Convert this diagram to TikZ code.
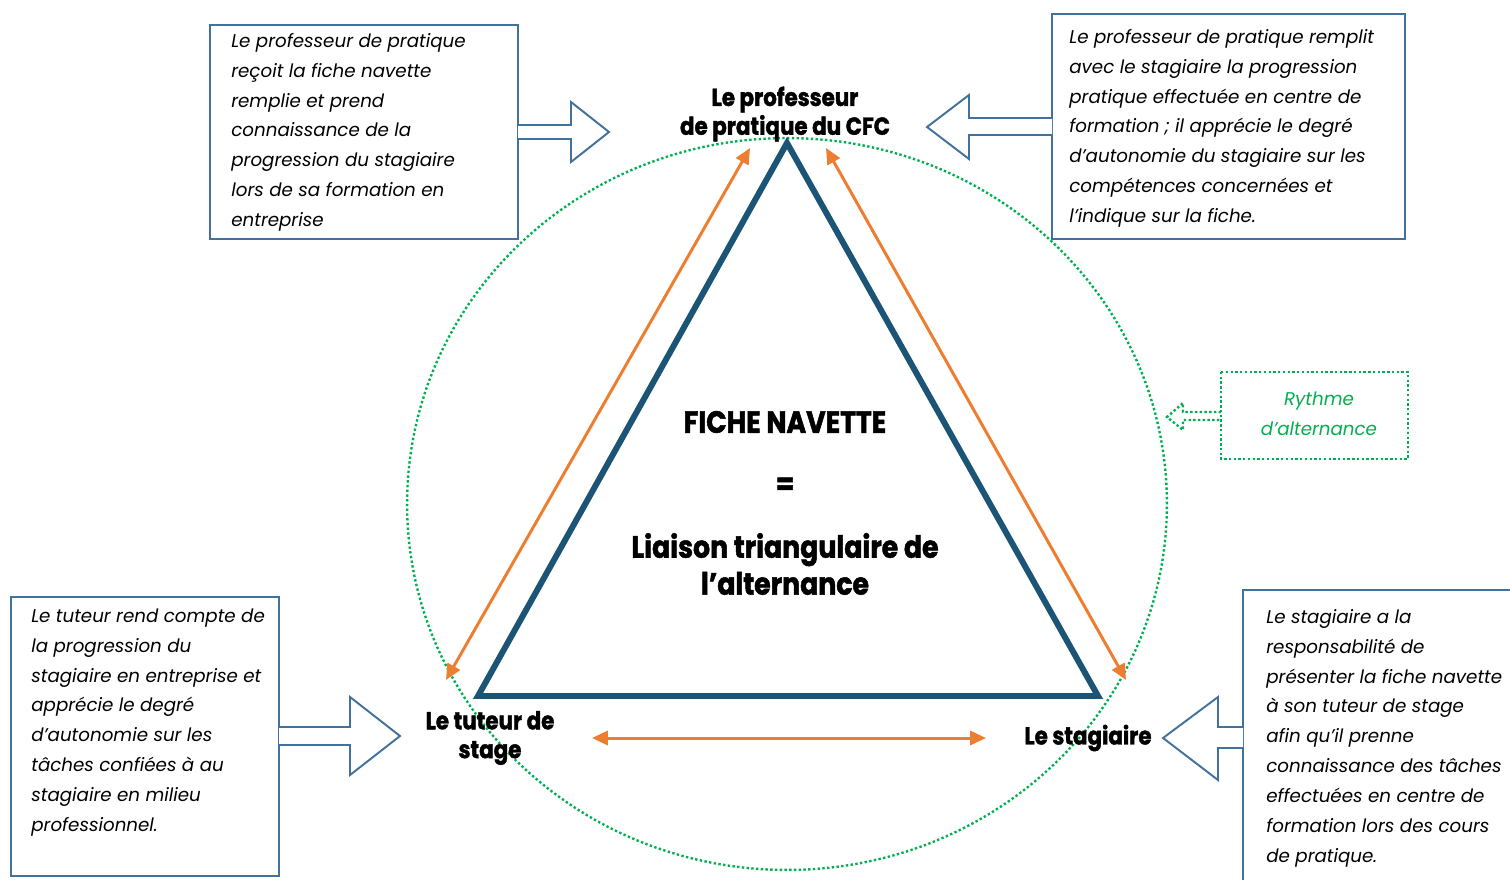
\documentclass[tikz,border=0pt]{standalone}
\usepackage{fontspec}
\setmainfont{Poppins}
\newfontfamily\bodyfam{Poppins}[FakeStretch=0.99]
\newfontfamily\lblfam{Poppins}[FakeStretch=0.87, BoldFeatures={FakeBold=1.6}]
\usetikzlibrary{arrows.meta}
\definecolor{boxblue}{RGB}{65,113,156}
\definecolor{triblue}{RGB}{28,84,118}
\definecolor{orangec}{RGB}{237,125,49}
\definecolor{greenc}{RGB}{0,176,80}
\newcommand{\bodyfnt}{\bodyfam\itshape\fontsize{10.5}{17}\selectfont}
\newcommand{\lblfnt}{\lblfam\bfseries\fontsize{14}{16.4}\selectfont}
\newcommand{\bigfnt}{\lblfam\bfseries\fontsize{17.5}{21}\selectfont}
\newcommand{\fl}{\rule{0pt}{10pt}}
\tikzset{
  bx/.style={draw=boxblue, line width=1.1pt},
  barrow/.style={draw=boxblue, line width=1.1pt, fill=white, line join=miter},
  body/.style={anchor=north west, inner sep=0pt, align=left, font=\bodyfnt},
  lbl/.style={inner sep=0pt, align=center, font=\lblfnt},
  oarr/.style={draw=orangec, line width=1.7pt, {Triangle[length=9pt,width=8pt]}-{Triangle[length=9pt,width=8pt]}},
  gdot/.style={draw=greenc, line width=1.35pt, dash pattern=on 1.35pt off 1.35pt},
}
\begin{document}
\begin{tikzpicture}[x=0.02cm,y=-0.02cm]
\useasboundingbox (0,0) rectangle (1510,879);
% green dotted ellipse
\draw[gdot] (787,504) ellipse [x radius=7.6cm, y radius=7.32cm];
% triangle
\coordinate (A) at (787,143);
\coordinate (B) at (478,696);
\coordinate (C) at (1098,696);
\draw[triblue, line width=3.4pt, line join=miter] (A) -- (B) -- (C) -- cycle;
% orange arrows
\coordinate (o1a) at (750,148); \coordinate (o1b) at (446,680);
\coordinate (o2a) at (826,148); \coordinate (o2b) at (1126,680);
\coordinate (o3a) at (592,738); \coordinate (o3b) at (986,738);
\draw[oarr] (o1a) -- (o1b);
\draw[oarr] (o2a) -- (o2b);
\draw[oarr] (o3a) -- (o3b);
% labels
\node[lbl] (prof) at (785,114) {Le professeur\\de pratique du CFC};
\node[lbl] (tut) at (490,738) {Le tuteur de\\stage};
\node[lbl] (stag) at (1088,738) {Le stagiaire};
\node[inner sep=0pt, font=\bigfnt] (fiche) at (785,422) {FICHE NAVETTE};
\node[inner sep=0pt, font=\bigfnt] (eq) at (785,486) {=};
\node[inner sep=0pt, align=center, font=\bigfnt] (liai) at (785,564) {Liaison triangulaire de\\l’alternance};
% boxes
\draw[bx] (210,25) rectangle (518,239);
\draw[bx] (1052,14) rectangle (1405,239);
\draw[bx] (11,597) rectangle (279,876);
\draw[bx] (1243,880) -- (1243,590) -- (1511,590);
% block arrows
\draw[barrow] (518,125) -- (571,125) -- (571,102) -- (609,132) -- (571,162) -- (571,139) -- (518,139);
\draw[barrow] (1052,118) -- (969,118) -- (969,95) -- (927,127) -- (969,159) -- (969,135) -- (1052,135);
\draw[barrow] (279,727) -- (350,727) -- (350,697) -- (400,736) -- (350,775) -- (350,745) -- (279,745);
\draw[barrow] (1243,727) -- (1218,727) -- (1218,697) -- (1163,738) -- (1218,780) -- (1218,748) -- (1243,748);
% body texts
\node[body] (t1) at (231,29.4) {\fl Le professeur de pratique\\reçoit la fiche navette\\remplie et prend\\connaissance de la\\progression du stagiaire\\lors de sa formation en\\entreprise};
\node[body] (t2) at (1069,25.4) {\fl Le professeur de pratique remplit\\avec le stagiaire la progression\\pratique effectuée en centre de\\formation ; il apprécie le degré\\d’autonomie du stagiaire sur les\\compétences concernées et\\l’indique sur la fiche.};
\node[body] (t3) at (31,604.4) {\fl Le tuteur rend compte de\\la progression du\\stagiaire en entreprise et\\apprécie le degré\\d’autonomie sur les\\tâches confiées à au\\stagiaire en milieu\\professionnel.};
\node[body] (t4) at (1266,605.4) {\fl Le stagiaire a la\\responsabilité de\\présenter la fiche navette\\à son tuteur de stage\\afin qu’il prenne\\connaissance des tâches\\effectuées en centre de\\formation lors des cours\\de pratique.};
% rythme box
\draw[gdot] (1221,372) rectangle (1408,459);
\node[inner sep=0pt, align=center, font=\bodyfnt, text=greenc] (ry) at (1319,414) {Rythme\\d’alternance};
\draw[gdot, line join=miter] (1221,412) -- (1183,412) -- (1183,403) -- (1167,417) -- (1183,430) -- (1183,420) -- (1221,420);
\end{tikzpicture}
\end{document}
